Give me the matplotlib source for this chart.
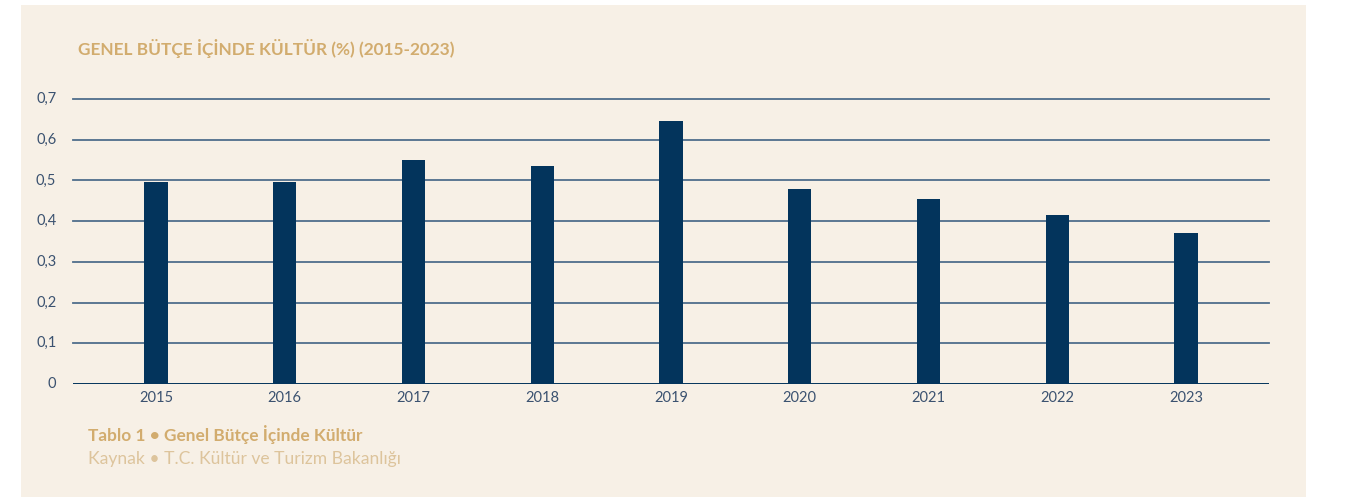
import matplotlib.pyplot as plt
from matplotlib.patches import Rectangle


# data
years = ['2015', '2016', '2017', '2018', '2019', '2020', '2021', '2022', '2023']
shares = [0.495, 0.495, 0.55, 0.535, 0.645, 0.48, 0.455, 0.415, 0.37]
yticks = [0, 0.1, 0.2, 0.3, 0.4, 0.5, 0.6, 0.7]
ytick_labels = ['0', '0,1', '0,2', '0,3', '0,4', '0,5', '0,6', '0,7']

title = 'GENEL BÜTÇE İÇİNDE KÜLTÜR (%) (2015-2023)'
caption = 'Tablo 1 • Genel Bütçe İçinde Kültür'
source = 'Kaynak • T.C. Kültür ve Turizm Bakanlığı'


W, H = 1350, 497
bg = '#F7F0E6'
navy = '#03345C'
gold = '#D2AC6E'
gold_light = '#DDC49C'
grid_col = '#4F6E8C'
tick_col = '#3B5270'

plt.rcParams['font.family'] = ['Lato', 'DejaVu Sans']

fig = plt.figure(figsize=(W / 100, H / 100), dpi=100)
fig.patch.set_facecolor('white')

# beige panel behind everything
fig.patches.append(Rectangle((21 / W, 0), (1306 - 21) / W, 1 - 5 / H,
                             transform=fig.transFigure, facecolor=bg,
                             edgecolor='none', zorder=-5))

ax = fig.add_axes([73 / W, 1 - 384 / H, (1269 - 73) / W, (384 - 99) / H])
ax.set_facecolor('none')

x = list(range(len(years)))
ax.bar(x, shares, width=0.18, color=navy, zorder=3)

ax.set_xlim(-0.645, len(years) - 1 + 0.645)
ax.set_ylim(0, 0.7)

for v in yticks[1:]:
    ax.axhline(v, color=grid_col, linewidth=1.3, zorder=1, clip_on=False)
ax.axhline(0, color=navy, linewidth=1.4, zorder=4)

for s in ax.spines.values():
    s.set_visible(False)

ax.set_yticks(yticks)
ax.set_yticklabels(ytick_labels)
ax.set_xticks(x)
ax.set_xticklabels(years)
ax.tick_params(axis='both', length=0, colors=tick_col, labelsize=10.5)
ax.tick_params(axis='y', pad=12)
ax.tick_params(axis='x', pad=5)
for lbl in ax.get_yticklabels():
    lbl.set_verticalalignment('center')

fig.text(78 / W, 1 - 48 / H, title, color=gold, fontsize=12.4,
         fontweight='bold', va='center', ha='left')
fig.text(88 / W, 1 - 435 / H, caption, color=gold, fontsize=12.4,
         fontweight='bold', va='center', ha='left')
fig.text(88 / W, 1 - 459 / H, source, color=gold_light, fontsize=12.6,
         va='center', ha='left')

fig.savefig('out.png', dpi=100, facecolor=fig.get_facecolor())
